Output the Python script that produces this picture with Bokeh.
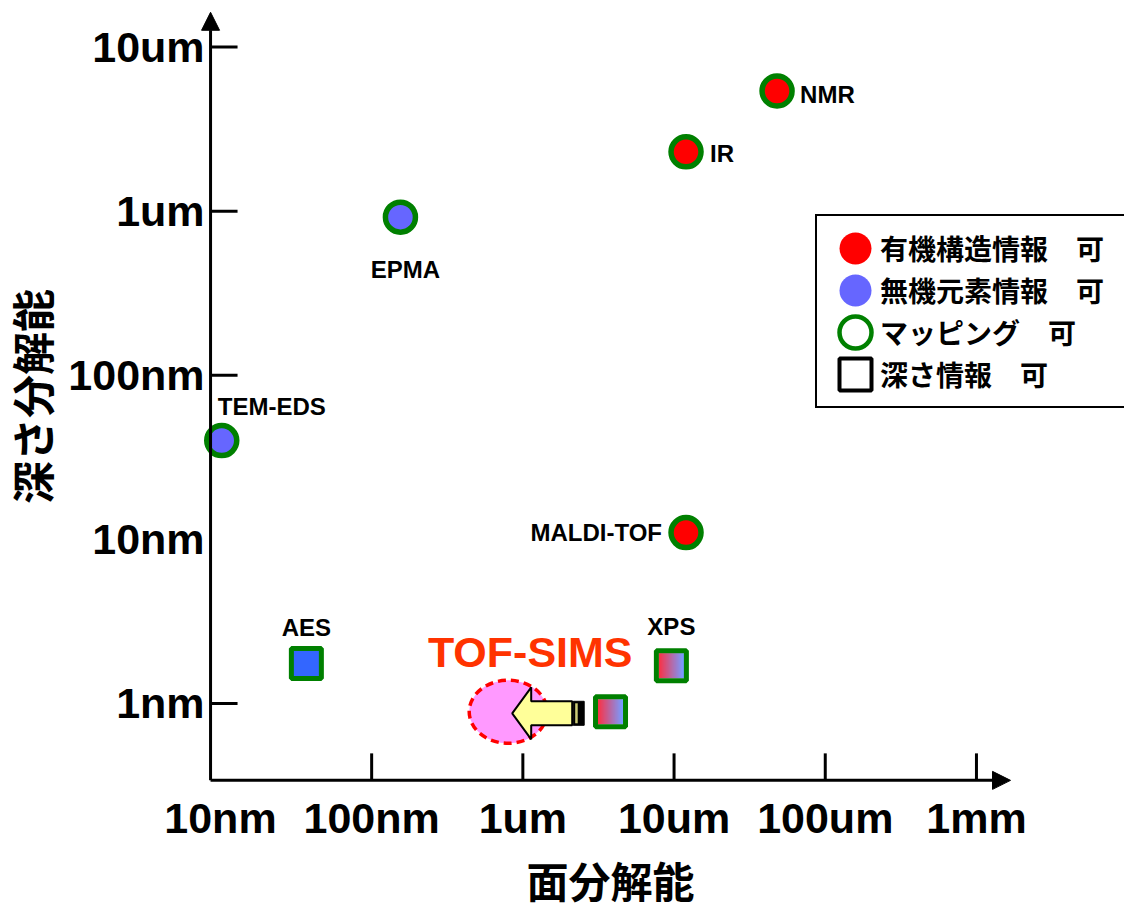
import numpy as np
from bokeh.plotting import figure
from bokeh.models import Range1d, FixedTicker, Arrow, NormalHead, Legend, LegendItem
from bokeh.core.properties import value
from bokeh.embed import file_html
from bokeh.resources import INLINE

# ---- data (all lengths in nm) ----------------------------------------------
# techniques drawn as circles
circle_names = ["NMR", "IR", "EPMA", "TEM-EDS", "MALDI-TOF"]
circle_lateral_nm = [48000, 12000, 155, 10.2, 12000]
circle_depth_nm = [5400, 2300, 920, 40, 11]
circle_info = ["organic", "organic", "inorganic", "inorganic", "organic"]

# techniques that also give depth information (squares)
square_names = ["AES", "XPS", "TOF-SIMS"]
square_lateral_nm = [37, 9600, 3800]
square_depth_nm = [1.75, 1.7, 0.89]
square_info = ["inorganic", "both", "both"]

# highlighted TOF-SIMS spot
spot_name = "TOF-SIMS"
spot_lateral_nm = 800
spot_depth_nm = 0.89

x_tick_values = [10, 100, 1000, 10000, 100000, 1000000]
x_tick_labels = ["10nm", "100nm", "1um", "10um", "100um", "1mm"]
y_tick_values = [1, 10, 100, 1000, 10000]
y_tick_labels = ["1nm", "10nm", "100nm", "1um", "10um"]
x_tick_marks = [100, 1000, 10000, 100000, 1000000]
y_tick_marks = [1, 100, 1000, 10000]

legend_labels = ["有機構造情報　可", "無機元素情報　可", "マッピング　可", "深さ情報　可"]

# ---- styling ---------------------------------------------------------------
JP_FONT = "Noto Sans CJK JP"
LAT_FONT = "Liberation Sans"
RED = "#FF0000"
BLUE = "#6666FF"
AES_BLUE = "#3366FF"
GREEN = "#008000"
GRAD_LEFT = (250, 50, 70)
GRAD_RIGHT = (120, 155, 255)

# name: (x offset px, y offset px, alignment)
label_style = {
    "NMR": (23, 3, "left"),
    "IR": (24, 2, "left"),
    "EPMA": (5, 52, "center"),
    "TEM-EDS": (-4, -34, "left"),
    "MALDI-TOF": (-24, 0, "right"),
    "AES": (0, -36, "center"),
    "XPS": (0, -39, "center"),
}

# plot area covers the whole page; axes cross at (X_AXIS, Y_AXIS)
W, H = 1124, 911
X0, X1 = 0.351, 9.53e6
Y0, Y1 = 0.054, 19230
X_AXIS, X_END = 8.6, 1.68e6
Y_AXIS, Y_END = 0.34, 16300
PPD_X = W / np.log10(X1 / X0)
PPD_Y = H / np.log10(Y1 / Y0)


def shift(x, y, dx, dy):
    """Move a data point by (dx, dy) screen pixels on the log/log scales."""
    return x * 10 ** (dx / PPD_X), y * 10 ** (-dy / PPD_Y)


p = figure(frame_width=W, frame_height=H,
           x_axis_type="log", y_axis_type="log",
           x_range=Range1d(X0, X1), y_range=Range1d(Y0, Y1),
           min_border=0,
           toolbar_location=None, output_backend="svg",
           background_fill_color="white", border_fill_color="white",
           outline_line_color=None)
p.grid.visible = False

# ---- axes (labels only; lines and tick marks drawn below) ------------------
for ax, vals, labs in ((p.xaxis, x_tick_values, x_tick_labels),
                       (p.yaxis, y_tick_values, y_tick_labels)):
    ax.ticker = FixedTicker(ticks=vals, minor_ticks=[])
    ax.major_label_overrides = {v: l for v, l in zip(vals, labs)}
    ax.major_tick_in = 0
    ax.major_tick_out = 0
    ax.minor_tick_in = 0
    ax.minor_tick_out = 0
    ax.axis_line_color = None
    ax.major_label_text_font = LAT_FONT
    ax.major_label_text_font_style = "bold"
    ax.major_label_text_font_size = "43px"
    ax.major_label_text_color = "black"
    ax.axis_label_text_font = JP_FONT
    ax.axis_label_text_font_style = "bold"
    ax.axis_label_text_color = "black"

p.xaxis.axis_label = "面分解能"
p.yaxis.axis_label = "深さ分解能"
p.xaxis.axis_label_text_font_size = "42px"
p.yaxis.axis_label_text_font_size = "43px"
p.xaxis.fixed_location = Y_AXIS
p.yaxis.fixed_location = X_AXIS
p.xaxis.bounds = (X_AXIS, X_END)
p.yaxis.bounds = (Y_AXIS, Y_END)
p.xaxis.major_label_standoff = 14
p.xaxis.axis_label_standoff = 3
p.yaxis.major_label_standoff = 6
p.yaxis.axis_label_standoff = 3

head = dict(size=18, fill_color="black", line_color="black", line_width=1)
p.add_layout(Arrow(end=NormalHead(**head), x_start=X_AXIS, y_start=Y_AXIS,
                   x_end=X_AXIS, y_end=Y_END, line_width=3, line_color="black"))
p.add_layout(Arrow(end=NormalHead(**head), x_start=X_AXIS, y_start=Y_AXIS,
                   x_end=X_END, y_end=Y_AXIS, line_width=3, line_color="black"))

TICK = 27
p.segment(x0=[X_AXIS] * len(y_tick_marks), y0=y_tick_marks,
          x1=[shift(X_AXIS, 1, TICK, 0)[0]] * len(y_tick_marks), y1=y_tick_marks,
          line_color="black", line_width=3)
p.segment(x0=x_tick_marks, y0=[Y_AXIS] * len(x_tick_marks),
          x1=x_tick_marks, y1=[shift(1, Y_AXIS, 0, -TICK)[1]] * len(x_tick_marks),
          line_color="black", line_width=3)

# ---- TOF-SIMS spot and pointer arrow ----------------------------------------
p.ellipse(x=[spot_lateral_nm], y=[spot_depth_nm], width=78, height=63,
          width_units="screen", height_units="screen",
          fill_color="#FF99FF", line_color="#FF0000", line_width=3.5,
          line_dash="8 5")

tip_x, tip_y = shift(spot_lateral_nm, spot_depth_nm, 4, 1.5)
arrow_shape = [(0, 0), (19, -26), (19, -12), (60, -12), (60, 12), (19, 12), (19, 26)]
ax_, ay_ = zip(*[shift(tip_x, tip_y, dx, dy) for dx, dy in arrow_shape])
p.patch(list(ax_), list(ay_), fill_color="#FFFF99", line_color="black", line_width=2)
# striped tail of the arrow
l_, t_ = shift(tip_x, tip_y, 61, -12)
r_, b_ = shift(tip_x, tip_y, 72, 12)
p.quad(left=[l_], right=[r_], top=[t_], bottom=[b_], fill_color="black", line_color="black")
l_, t_ = shift(tip_x, tip_y, 63, -10)
r_, b_ = shift(tip_x, tip_y, 65.5, 10)
p.quad(left=[l_], right=[r_], top=[t_], bottom=[b_], fill_color="#CCCC77", line_color=None)

p.text(x=[spot_lateral_nm], y=[spot_depth_nm], text=[spot_name],
       x_offset=22, y_offset=-60, text_align="center", text_baseline="middle",
       text_font=value(LAT_FONT), text_font_style="bold", text_font_size="43px",
       text_color="#FF3300")

# ---- squares ---------------------------------------------------------------
SQ = 30
SQ_LINE = 5
inner = SQ - SQ_LINE
n_strips = 25
offs = (np.arange(n_strips) + 0.5) / n_strips * inner - inner / 2
fracs = np.linspace(0, 1, n_strips)
grad_colors = ["#%02x%02x%02x" % tuple(int(round(a + (b - a) * f)) for a, b in zip(GRAD_LEFT, GRAD_RIGHT))
               for f in fracs]
for xc, yc, info in zip(square_lateral_nm, square_depth_nm, square_info):
    if info == "both":
        xs = [shift(xc, yc, o, 0)[0] for o in offs]
        p.rect(x=xs, y=[yc] * n_strips, width=inner / n_strips + 0.8, height=inner,
               width_units="screen", height_units="screen",
               fill_color=grad_colors, line_color=None)

p.scatter(square_lateral_nm, square_depth_nm, marker="square", size=SQ,
          fill_color=[AES_BLUE if i == "inorganic" else "white" for i in square_info],
          fill_alpha=[1.0 if i == "inorganic" else 0.0 for i in square_info],
          line_color=GREEN, line_width=SQ_LINE)

# ---- circles ---------------------------------------------------------------
p.scatter(circle_lateral_nm, circle_depth_nm, marker="circle", size=30,
          fill_color=[RED if i == "organic" else BLUE for i in circle_info],
          line_color=GREEN, line_width=5.5)

# ---- technique labels ------------------------------------------------------
all_names = circle_names + square_names
all_x = circle_lateral_nm + square_lateral_nm
all_y = circle_depth_nm + square_depth_nm
for name, xv, yv in zip(all_names, all_x, all_y):
    if name not in label_style:
        continue
    dx, dy, align = label_style[name]
    p.text(x=[xv], y=[yv], text=[name], x_offset=dx, y_offset=dy,
           text_align=align, text_baseline="middle",
           text_font=value(LAT_FONT), text_font_style="bold",
           text_font_size="24px", text_color="black")

# ---- legend (key glyphs only, no data of their own) -------------------------
nan = np.array([np.nan])
key = dict(width=30, height=30, width_units="screen", height_units="screen")
r_org = p.ellipse(x=nan, y=nan, fill_color=RED, line_color=None, **key)
r_inorg = p.ellipse(x=nan, y=nan, fill_color=BLUE, line_color=None, **key)
r_map = p.ellipse(x=nan, y=nan, fill_color="white", line_color=GREEN, line_width=4.5, **key)
r_depth = p.rect(x=nan, y=nan, fill_color="white", line_color="black", line_width=4, **key)
legend = Legend(
    items=[LegendItem(label=lab, renderers=[r])
           for lab, r in zip(legend_labels, [r_org, r_inorg, r_map, r_depth])],
    location=(815, 503), orientation="vertical",
    glyph_width=40, glyph_height=40, spacing=2,
    padding=dict(left=18, right=45, top=12, bottom=12),
    label_standoff=5, margin=0,
    border_line_color="black", border_line_width=2, border_line_alpha=1.0,
    background_fill_color="white", background_fill_alpha=1.0,
    label_text_font=JP_FONT, label_text_font_style="bold",
    label_text_font_size="28px", label_text_color="black")
p.add_layout(legend)

open("out.html", "w").write(file_html(p, INLINE))
